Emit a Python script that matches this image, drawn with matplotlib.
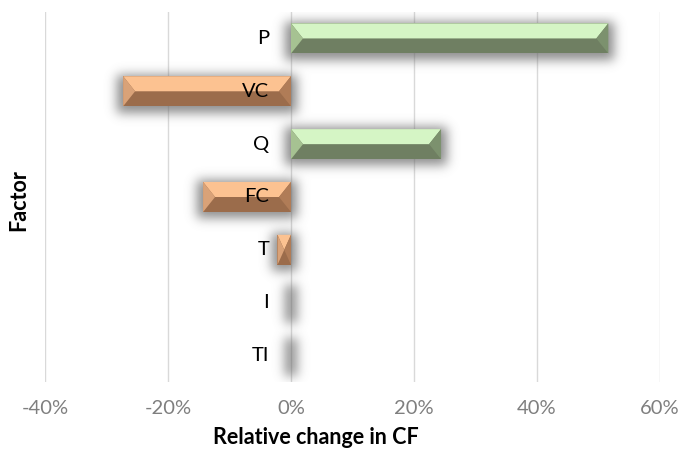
import numpy as np
import matplotlib
matplotlib.use("Agg")
import matplotlib.pyplot as plt
from matplotlib.patches import Polygon

plt.rcParams['font.family'] = ['Lato', 'DejaVu Sans']

# Sensitivity of CF to each factor (relative change, %)
factors = ["P", "VC", "Q", "FC", "T", "I", "TI"]
changes = [51.6, -27.3, 24.4, -14.3, -2.2, 0.0, 0.0]
xticks = [-40, -20, 0, 20, 40, 60]
xtick_labels = ["-40%", "-20%", "0%", "20%", "40%", "60%"]

W, H = 693, 451
fig = plt.figure(figsize=(W / 100, H / 100), dpi=100)
ax_l, ax_r, ax_t, ax_b = 45, 660, 12, 382
ax = fig.add_axes([ax_l / W, 1 - ax_b / H, (ax_r - ax_l) / W, (ax_b - ax_t) / H])

xmin, xmax = -40, 60
ymin, ymax = -0.5, len(factors) - 0.5
ax.set_xlim(xmin, xmax)
ax.set_ylim(ymax, ymin)

bar_h = 0.57
ypos = np.arange(len(factors))

px_x = (ax_r - ax_l) / (xmax - xmin)      # pixels per % unit
px_y = (ax_b - ax_t) / (ymax - ymin)      # pixels per category

# soft outer shadow around every bar
nx, ny = ax_r - ax_l, ax_b - ax_t
xs = np.linspace(xmin, xmax, nx)
ys = np.linspace(ymin, ymax, ny)
mask = np.zeros((ny, nx))
pad_x, pad_y, drop = 6 / px_x, 4 / px_y, 2 / px_y
for y, v in zip(ypos, changes):
    x0, x1 = min(0, v) - pad_x, max(0, v) + pad_x
    y0, y1 = y - bar_h / 2 - pad_y + drop, y + bar_h / 2 + pad_y + drop
    mask[np.ix_((ys >= y0) & (ys <= y1), (xs >= x0) & (xs <= x1))] = 1.0
sigma = 5.5
k = np.arange(-20, 21)
kern = np.exp(-k ** 2 / (2 * sigma ** 2))
kern /= kern.sum()
blur = np.apply_along_axis(lambda r: np.convolve(r, kern, mode='same'), 1, mask)
blur = np.apply_along_axis(lambda c: np.convolve(c, kern, mode='same'), 0, blur)
rgba = np.zeros((ny, nx, 4))
rgba[..., :3] = 0.4
rgba[..., 3] = np.clip(blur, 0, 1) * 0.75
ax.imshow(rgba, extent=(xmin, xmax, ymax, ymin), origin='upper',
          aspect='auto', zorder=1, interpolation='bilinear')

# gridlines
for t in xticks:
    ax.axvline(t, color='#d9d9d9', lw=1.0, zorder=0.5)

# bevelled bars
green = dict(top='#d5f5c5', left='#a6c292', right='#7c916e', bottom='#6f7f62')
orange = dict(top='#fcc291', left='#d9a278', right='#b07c57', bottom='#9b6c4b')
bevel = 12 / px_x

bottoms = ax.barh(ypos, changes, height=bar_h, left=0,
                  color=[(green if v >= 0 else orange)['bottom'] for v in changes],
                  edgecolor='none', zorder=2)
for y, v in zip(ypos, changes):
    if v == 0:
        continue
    c = green if v > 0 else orange
    x0, x1 = min(0, v), max(0, v)
    bw = min(bevel, (x1 - x0) / 2)
    yt, yb, ym = y - bar_h / 2, y + bar_h / 2, y
    faces = [
        ([(x0, yt), (x1, yt), (x1 - bw, ym), (x0 + bw, ym)], c['top']),
        ([(x0, yt), (x0 + bw, ym), (x0, yb)], c['left']),
        ([(x1, yt), (x1 - bw, ym), (x1, yb)], c['right']),
    ]
    for pts, col in faces:
        ax.add_patch(Polygon(pts, closed=True, facecolor=col, edgecolor='none', zorder=3))

# factor labels next to the zero axis
for y, name in zip(ypos, factors):
    ax.annotate(name, xy=(0, y), xytext=(-22, 0), textcoords='offset pixels',
                ha='right', va='center', fontsize=14.5, color='#000000', zorder=5)

for s in ax.spines.values():
    s.set_visible(False)
ax.set_yticks([])
ax.set_xticks(xticks)
ax.set_xticklabels(xtick_labels, fontsize=14.5, color='#7f7f7f')
ax.tick_params(axis='x', length=0, pad=13)

fig.text(316 / W, 1 - 438 / H, "Relative change in CF", ha='center', va='center',
         fontsize=15.5, fontweight='bold')
fig.text(19 / W, 1 - 200 / H, "Factor", ha='center', va='center', rotation=90,
         fontsize=15.5, fontweight='bold')

fig.savefig("out.png", dpi=100)
